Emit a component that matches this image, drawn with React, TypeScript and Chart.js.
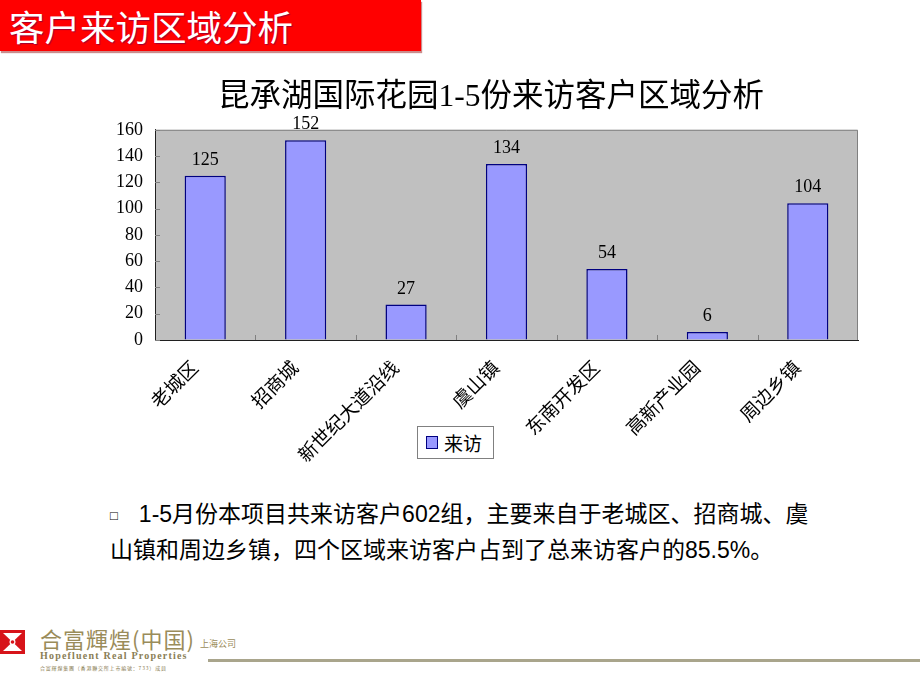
import React, { useEffect, useRef } from "react";
import { Chart, registerables } from "chart.js";

Chart.register(...registerables);

const categories = ["老城区", "招商城", "新世纪大道沿线", "虞山镇", "东南开发区", "高新产业园", "周边乡镇"];
const visits = [125, 152, 27, 134, 54, 6, 104];
const seriesName = "来访";
const yMin = 0;
const yMax = 160;
const yStep = 20;
const chartTitle = "昆承湖国际花园1-5份来访客户区域分析";
const headerText = "客户来访区域分析";
const bodyLine1 = "1-5月份本项目共来访客户602组，主要来自于老城区、招商城、虞";
const bodyLine2 = "山镇和周边乡镇，四个区域来访客户占到了总来访客户的85.5%。";

const SERIF = "'Liberation Serif', 'Noto Sans CJK SC', serif";
const CJK = "'Noto Sans CJK SC', sans-serif";
const SANS = "'Liberation Sans', 'Noto Sans CJK SC', sans-serif";

const plotBgPlugin = {
  id: "plotBg",
  afterLayout(chart: any) {
    // let the y tick labels use the left padding area (avoid label clipping)
    const y = chart.scales.y;
    if (y) y.left = 0;
  },
  beforeDraw(chart: any) {
    const { ctx, chartArea } = chart;
    ctx.save();
    ctx.fillStyle = "#C0C0C0";
    ctx.fillRect(chartArea.left, chartArea.top, chartArea.right - chartArea.left, chartArea.bottom - chartArea.top);
    ctx.restore();
  },
  beforeDatasetsDraw(chart: any) {
    // inside tick marks (Excel style)
    const { ctx, chartArea, scales } = chart;
    ctx.save();
    ctx.strokeStyle = "#808080";
    ctx.lineWidth = 1;
    ctx.beginPath();
    scales.y.ticks.forEach((t: any) => {
      const y = Math.round(scales.y.getPixelForValue(t.value)) + 0.5;
      ctx.moveTo(chartArea.left, y);
      ctx.lineTo(chartArea.left + 5, y);
    });
    const n = scales.x.ticks.length;
    for (let i = 1; i < n; i++) {
      const x = Math.round((scales.x.getPixelForTick(i - 1) + scales.x.getPixelForTick(i)) / 2) + 0.5;
      ctx.moveTo(x, chartArea.bottom);
      ctx.lineTo(x, chartArea.bottom - 5);
    }
    ctx.stroke();
    ctx.restore();
  },
  afterDraw(chart: any) {
    const { ctx, chartArea } = chart;
    ctx.save();
    ctx.strokeStyle = "#808080";
    ctx.lineWidth = 1;
    ctx.beginPath();
    ctx.moveTo(chartArea.left, chartArea.top + 0.5);
    ctx.lineTo(chartArea.right - 0.5, chartArea.top + 0.5);
    ctx.lineTo(chartArea.right - 0.5, chartArea.bottom);
    ctx.stroke();
    ctx.restore();
  },
};

const dataLabelPlugin = {
  id: "dataLabels",
  afterDatasetsDraw(chart: any) {
    const { ctx } = chart;
    ctx.save();
    ctx.font = `18px ${SERIF}`;
    ctx.fillStyle = "#000";
    ctx.textAlign = "center";
    ctx.textBaseline = "alphabetic";
    chart.data.datasets.forEach((ds: any, di: number) => {
      const meta = chart.getDatasetMeta(di);
      meta.data.forEach((bar: any, i: number) => {
        ctx.fillText(String(ds.data[i]), bar.x, bar.y - 11);
      });
    });
    ctx.restore();
  },
};

function BarChart() {
  const ref = useRef<HTMLCanvasElement | null>(null);
  useEffect(() => {
    if (!ref.current) return;
    const chart = new Chart(ref.current, {
      type: "bar",
      data: {
        labels: categories,
        datasets: [
          {
            label: seriesName,
            data: visits,
            backgroundColor: "#9999FF",
            borderColor: "#000080",
            borderWidth: 1.5,
            barPercentage: 0.41,
            categoryPercentage: 1,
          },
        ],
      },
      options: {
        responsive: false,
        animation: false,
        devicePixelRatio: 1,
        layout: { padding: { left: 24, right: 32, top: 0, bottom: 0 } },
        plugins: {
          legend: { display: false },
          tooltip: { enabled: false },
          title: {
            display: true,
            text: chartTitle,
            color: "#000",
            font: { size: 31.5, family: SERIF, weight: "normal" as any },
            padding: { top: 4, bottom: 13 },
          },
        },
        scales: {
          x: {
            grid: { display: true, drawOnChartArea: false, drawTicks: true, tickLength: 5, color: "rgba(0,0,0,0)" },
            border: { display: true, color: "#202020", width: 1 },
            ticks: {
              color: "#000",
              font: { size: 19, family: CJK },
              minRotation: 45,
              maxRotation: 45,
              padding: 11,
              labelOffset: -11,
              autoSkip: false,
            },
            afterFit: (s: any) => {
              s.height = 140;
            },
          },
          y: {
            min: yMin,
            max: yMax,
            grid: { display: true, drawOnChartArea: false, drawTicks: true, tickLength: 4, color: "rgba(0,0,0,0)" },
            border: { display: true, color: "#202020", width: 1 },
            ticks: {
              stepSize: yStep,
              color: "#000",
              font: { size: 18, family: SERIF },
              padding: 8,
            },
            afterFit: (s: any) => {
              s.width = 31;
            },
          },
        },
      },
      plugins: [plotBgPlugin, dataLabelPlugin],
    });
    return () => chart.destroy();
  }, []);
  return <canvas ref={ref} width={790} height={405} style={{ display: "block", width: 790, height: 405 }} />;
}

export default function App() {
  return (
    <div
      style={{
        position: "fixed",
        left: 0,
        top: 0,
        width: 920,
        height: 690,
        background: "#FFFFFF",
        overflow: "hidden",
      }}
    >
      {/* header */}
      <div
        style={{
          position: "absolute",
          left: 0,
          top: 0,
          width: 421,
          height: 51,
          background: "#FF0000",
          boxShadow: "1px 2px 1px rgba(140,0,0,0.45)",
        }}
      />
      <div
        style={{
          position: "absolute",
          left: 9,
          top: 3,
          height: 46,
          lineHeight: "46px",
          fontFamily: CJK,
          fontSize: 35.5,
          color: "#FFFFFF",
          textShadow: "1px 1px 1px #A00030",
          whiteSpace: "nowrap",
        }}
      >
        {headerText}
      </div>

      {/* chart */}
      <div style={{ position: "absolute", left: 100, top: 75, width: 790, height: 405 }}>
        <BarChart />
      </div>

      {/* legend */}
      <div
        style={{
          position: "absolute",
          left: 417,
          top: 426,
          width: 77,
          height: 33,
          border: "1px solid #808080",
          background: "#FFFFFF",
          boxSizing: "border-box",
          display: "flex",
          alignItems: "center",
        }}
      >
        <div
          style={{
            marginLeft: 8,
            width: 10,
            height: 11,
            background: "#9999FF",
            border: "1.5px solid #000080",
          }}
        />
        <div style={{ marginLeft: 6, fontFamily: CJK, fontSize: 19, color: "#000", lineHeight: "30px" }}>
          {seriesName}
        </div>
      </div>

      {/* body text */}
      <div
        style={{
          position: "absolute",
          left: 110,
          top: 497,
          fontFamily: SANS,
          fontSize: 23,
          lineHeight: "34px",
          color: "#000",
          whiteSpace: "nowrap",
        }}
      >
        <div>
          <span style={{ fontSize: 13, marginRight: 21, verticalAlign: "2px" }}>□</span>
          {bodyLine1}
        </div>
        <div>{bodyLine2}</div>
      </div>

      {/* footer logo */}
      <svg style={{ position: "absolute", left: 0, top: 630 }} width={25} height={24}>
        <rect x={0} y={0} width={25} height={24} fill="#D7141A" />
        <polygon points="3,3 22,3 12.5,12" fill="#FFFFFF" />
        <polygon points="3,21 22,21 12.5,12" fill="#FFFFFF" />
        <circle cx={12.5} cy={12} r={3} fill="#FFFFFF" />
        <circle cx={12.5} cy={12} r={1.8} fill="#D7141A" />
      </svg>
      <div
        style={{
          position: "absolute",
          left: 40,
          top: 623,
          fontFamily: CJK,
          fontSize: 22,
          letterSpacing: 1,
          color: "#9A8C5A",
          whiteSpace: "nowrap",
          lineHeight: "30px",
        }}
      >
        合富輝煌(中国)
      </div>
      <div
        style={{
          position: "absolute",
          left: 200,
          top: 638,
          fontFamily: CJK,
          fontSize: 9,
          color: "#9A8C5A",
          whiteSpace: "nowrap",
          lineHeight: "12px",
        }}
      >
        上海公司
      </div>
      <div
        style={{
          position: "absolute",
          left: 40,
          top: 650,
          fontFamily: SERIF,
          fontWeight: "bold",
          fontSize: 10,
          letterSpacing: 1.2,
          color: "#8A7E55",
          whiteSpace: "nowrap",
          lineHeight: "12px",
        }}
      >
        Hopefluent Real Properties
      </div>
      <div
        style={{
          position: "absolute",
          left: 40,
          top: 665,
          fontFamily: CJK,
          fontSize: 5,
          letterSpacing: 0.8,
          color: "#8A7E55",
          whiteSpace: "nowrap",
          lineHeight: "6px",
        }}
      >
        合富輝煌集團（香港聯交所上市編號：733）成員
      </div>
      <div
        style={{
          position: "absolute",
          left: 208,
          top: 659,
          width: 712,
          height: 3,
          background: "#A9A58C",
        }}
      />
    </div>
  );
}
